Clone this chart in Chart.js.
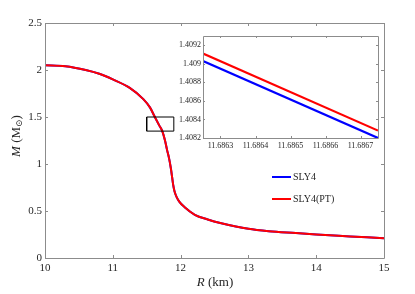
<!DOCTYPE html>
<html>
<head>
<meta charset="utf-8">
<script src="https://cdn.jsdelivr.net/npm/chart.js@4"></script>
<style>
  body { margin: 0; background: #fff; }
  #wrap { position: relative; width: 415px; height: 294px; }
  #main { position: absolute; left: 0; top: 0; }
  #inset { position: absolute; left: 160px; top: 28px; }
</style>
</head>
<body>
<div id="wrap">
  <canvas id="main" width="415" height="294"></canvas>
  <canvas id="inset" width="225" height="125"></canvas>
</div>
<script>
// main curve
const curveR = [10.0, 10.3, 10.6, 10.8, 11.0, 11.25, 11.45, 11.55, 11.62, 11.6865, 11.73, 11.77, 11.80, 11.83, 11.855, 11.875, 11.89, 11.91, 11.94, 11.98, 12.06, 12.21, 12.4, 12.6, 13.0, 13.3, 13.7, 14.0, 14.5, 15.0];
const slyM   = [2.05, 2.04, 2.0, 1.96, 1.90, 1.81, 1.69, 1.60, 1.50, 1.4086, 1.35, 1.25, 1.15, 1.06, 0.96, 0.86, 0.78, 0.71, 0.65, 0.60, 0.54, 0.46, 0.41, 0.37, 0.31, 0.285, 0.265, 0.25, 0.23, 0.21];
const ptM    = [2.05, 2.04, 2.0, 1.96, 1.90, 1.81, 1.69, 1.60, 1.50, 1.4086, 1.35, 1.25, 1.15, 1.06, 0.96, 0.86, 0.78, 0.71, 0.65, 0.60, 0.54, 0.46, 0.41, 0.37, 0.31, 0.285, 0.265, 0.25, 0.23, 0.21];

// zoom box
const boxR = [11.5, 11.9, 11.9, 11.5, 11.5];
const boxM = [1.35, 1.35, 1.5, 1.5, 1.35];

// inset
const insetR = [11.68625, 11.68675];
const insetSly = [1.40903, 1.40820];
const insetPt = [1.40911, 1.40828];

const xTicks = [10, 11, 12, 13, 14, 15];
const yTicks = [0, 0.5, 1, 1.5, 2, 2.5];
const insetXTicks = [11.6863, 11.6864, 11.6865, 11.6866, 11.6867];
const insetYTicks = [1.4082, 1.4084, 1.4086, 1.4088, 1.409, 1.4092];

const serif = '"Liberation Serif", "DejaVu Serif", serif';
const frameColor = '#8c8c8c';
const textColor = '#262626';

function pts(xs, ys) {
  return xs.map((x, i) => ({ x: x, y: ys[i] }));
}

function fixTicks(arr) {
  return scale => { scale.ticks = arr.map(v => ({ value: v })); };
}

// box + inward ticks on all four sides (matlab style)
function framePlugin(tickLen) {
  return {
    id: 'frame',
    beforeDatasetsDraw(chart, args, opts) {
      if (!opts.fill) return;
      const a = chart.chartArea;
      const ctx = chart.ctx;
      ctx.save();
      ctx.fillStyle = '#fff';
      ctx.fillRect(a.left, a.top, a.right - a.left, a.bottom - a.top);
      ctx.restore();
    },
    afterDraw(chart) {
      const a = chart.chartArea;
      const ctx = chart.ctx;
      const xs = chart.scales.x, ys = chart.scales.y;
      ctx.save();
      ctx.strokeStyle = frameColor;
      ctx.lineWidth = 1;
      ctx.beginPath();
      ctx.rect(Math.round(a.left) + 0.5, Math.round(a.top) + 0.5, Math.round(a.right - a.left), Math.round(a.bottom - a.top));
      xs.ticks.forEach(t => {
        const px = Math.round(xs.getPixelForValue(t.value)) + 0.5;
        ctx.moveTo(px, a.bottom); ctx.lineTo(px, a.bottom - tickLen);
        ctx.moveTo(px, a.top); ctx.lineTo(px, a.top + tickLen);
      });
      ys.ticks.forEach(t => {
        const py = Math.round(ys.getPixelForValue(t.value)) + 0.5;
        ctx.moveTo(a.left, py); ctx.lineTo(a.left + tickLen, py);
        ctx.moveTo(a.right, py); ctx.lineTo(a.right - tickLen, py);
      });
      ctx.stroke();
      ctx.restore();
    }
  };
}

const labelsPlugin = {
  id: 'labels',
  afterDraw(chart) {
    const ctx = chart.ctx;
    ctx.save();
    ctx.fillStyle = textColor;
    ctx.textBaseline = 'middle';

    // x title: R (km)
    const it = 'italic 13px ' + serif, up = '13px ' + serif;
    ctx.font = it; const wR = ctx.measureText('R').width;
    ctx.font = up; const wK = ctx.measureText(' (km)').width;
    let x0 = 215 - (wR + wK) / 2;
    ctx.textAlign = 'left';
    ctx.font = it; ctx.fillText('R', x0, 283);
    ctx.font = up; ctx.fillText(' (km)', x0 + wR, 283);

    // y title: M (M⊙)
    ctx.translate(17, 136);
    ctx.rotate(-Math.PI / 2);
    ctx.font = it; const wM = ctx.measureText('M').width;
    ctx.font = up; const w1 = ctx.measureText(' (M').width;
    ctx.font = '9px ' + serif; const wS = ctx.measureText('⊙').width;
    ctx.font = up; const w2 = ctx.measureText(')').width;
    let y0 = -(wM + w1 + wS + w2) / 2;
    ctx.font = it; ctx.fillText('M', y0, 0);
    ctx.font = up; ctx.fillText(' (M', y0 + wM, 0);
    ctx.font = '9px ' + serif; ctx.fillText('⊙', y0 + wM + w1, 3);
    ctx.font = up; ctx.fillText(')', y0 + wM + w1 + wS, 0);
    ctx.setTransform(1, 0, 0, 1, 0, 0);

    // legend
    const items = [
      { text: 'SLY4', color: '#0000ff', y: 177 },
      { text: 'SLY4(PT)', color: '#ff0000', y: 199 }
    ];
    ctx.font = '10px ' + serif;
    items.forEach(item => {
      ctx.strokeStyle = item.color;
      ctx.lineWidth = 2;
      ctx.beginPath();
      ctx.moveTo(272, item.y); ctx.lineTo(291, item.y);
      ctx.stroke();
      ctx.fillStyle = textColor;
      ctx.fillText(item.text, 293, item.y);
    });
    ctx.restore();
  }
};

new Chart(document.getElementById('main'), {
  type: 'scatter',
  data: {
    datasets: [
      { label: 'box', data: pts(boxR, boxM), showLine: true, borderColor: '#000', borderWidth: 1, pointRadius: 0, tension: 0, order: 0 },
      { label: 'SLY4(PT)', data: pts(curveR, ptM), showLine: true, borderColor: '#ff0000', borderWidth: 2, pointRadius: 0, cubicInterpolationMode: 'monotone', order: 1 },
      { label: 'SLY4', data: pts(curveR, slyM), showLine: true, borderColor: '#0000ff', borderWidth: 2, pointRadius: 0, cubicInterpolationMode: 'monotone', order: 2 }
    ]
  },
  options: {
    responsive: false,
    animation: false,
    layout: { padding: { left: 0, top: 23, right: 31, bottom: 0 } },
    plugins: { legend: { display: false }, tooltip: { enabled: false }, frame: { fill: false } },
    scales: {
      x: {
        type: 'linear', min: 10, max: 15,
        afterBuildTicks: fixTicks(xTicks),
        afterFit: s => { s.height = 36; },
        grid: { display: false, drawTicks: false }, border: { display: false },
        ticks: { color: textColor, font: { family: serif, size: 11 }, padding: 4, maxRotation: 0,
          callback: v => String(v) }
      },
      y: {
        type: 'linear', min: 0, max: 2.5,
        afterBuildTicks: fixTicks(yTicks),
        afterFit: s => { s.width = 45; },
        grid: { display: false, drawTicks: false }, border: { display: false },
        ticks: { color: textColor, font: { family: serif, size: 11 }, padding: 3,
          callback: v => String(v) }
      }
    }
  },
  plugins: [framePlugin(3), labelsPlugin]
});

new Chart(document.getElementById('inset'), {
  type: 'scatter',
  data: {
    datasets: [
      { label: 'SLY4(PT)', data: pts(insetR, insetPt), showLine: true, borderColor: '#ff0000', borderWidth: 2.2, pointRadius: 0, order: 1 },
      { label: 'SLY4', data: pts(insetR, insetSly), showLine: true, borderColor: '#0000ff', borderWidth: 2.2, pointRadius: 0, order: 2 }
    ]
  },
  options: {
    responsive: false,
    animation: false,
    layout: { padding: { left: 0, top: 8, right: 7, bottom: 0 } },
    plugins: { legend: { display: false }, tooltip: { enabled: false }, frame: { fill: true } },
    scales: {
      x: {
        type: 'linear', min: 11.68625, max: 11.68675,
        afterBuildTicks: fixTicks(insetXTicks),
        afterFit: s => { s.height = 15; },
        grid: { display: false, drawTicks: false }, border: { display: false },
        ticks: { color: textColor, font: { family: serif, size: 8 }, padding: 3, maxRotation: 0,
          callback: v => v.toFixed(4) }
      },
      y: {
        type: 'linear', min: 1.4082, max: 1.4093,
        afterBuildTicks: fixTicks(insetYTicks),
        afterFit: s => { s.width = 43; },
        grid: { display: false, drawTicks: false }, border: { display: false },
        ticks: { color: textColor, font: { family: serif, size: 8 }, padding: 2,
          callback: v => String(parseFloat(v.toFixed(4))) }
      }
    }
  },
  plugins: [framePlugin(2)]
});
</script>
</body>
</html>
